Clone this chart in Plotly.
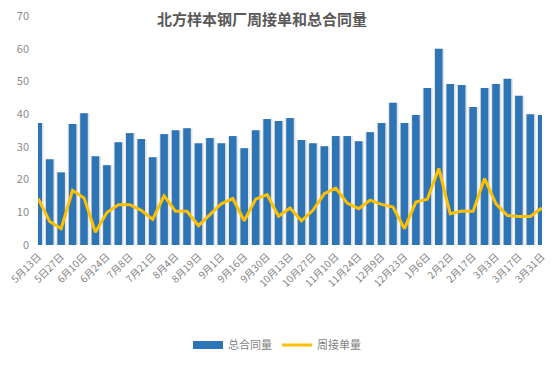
import plotly.graph_objects as go

dates = ["5月13日", "5月20日", "5日27日", "6月3日", "6月10日", "6月17日", "6月24日", "7月1日",
         "7月8日", "7月15日", "7月21日", "7月28日", "8月4日", "8月11日", "8月19日", "8月26日",
         "9月1日", "9月8日", "9月16日", "9月23日", "9月30日", "10月7日", "10月13日", "10月20日",
         "10月27日", "11月3日", "11月10日", "11月17日", "11月24日", "12月1日", "12月9日", "12月16日",
         "12月23日", "12月30日", "1月6日", "1月20日", "2月2日", "2月10日", "2月17日", "2月24日",
         "3月3日", "3月10日", "3月17日", "3月24日", "3月31日"]

total_contract = [37.3, 26.2, 22.2, 37.0, 40.3, 27.1, 24.4, 31.4, 34.2, 32.4, 26.8, 33.9,
                  35.1, 35.7, 31.1, 32.7, 31.1, 33.3, 29.6, 35.1, 38.5, 37.9, 38.8, 32.1,
                  31.1, 30.2, 33.3, 33.3, 31.7, 34.5, 37.3, 43.5, 37.3, 39.7, 48.0, 60.0,
                  49.2, 48.9, 42.2, 48.0, 49.2, 50.8, 45.6, 40.0, 39.7]

weekly_orders = [14.2, 7.2, 5.0, 16.7, 14.4, 3.9, 9.9, 12.3, 12.3, 10.6, 7.8, 15.0,
                 10.3, 10.3, 5.9, 9.3, 12.6, 14.2, 7.4, 14.0, 15.4, 8.8, 11.3, 7.4,
                 10.6, 15.7, 17.4, 12.8, 11.1, 13.7, 12.4, 11.6, 5.0, 13.1, 14.0, 23.4,
                 9.6, 10.4, 10.3, 20.3, 12.6, 9.0, 8.7, 8.7, 11.3]

font_family = "Noto Sans CJK SC"
BAR_COLOR = "#2E75B6"
LINE_COLOR = "#FFC000"

# page body has an 8px margin, so the figure is drawn at (8, 8)
W, H = 546, 358

fig = go.Figure()
# soft shadow behind the bars
fig.add_trace(go.Bar(
    x=dates, y=total_contract, showlegend=False, hoverinfo="skip",
    width=0.9, offset=-0.42,
    marker=dict(color="rgba(0,0,0,0.11)", line=dict(width=0)),
))
fig.add_trace(go.Bar(
    x=dates, y=total_contract, name="总合同量", showlegend=False,
    width=0.66, offset=-0.33,
    marker=dict(color=BAR_COLOR, line=dict(width=0)),
))
# legend swatch for the bars (wide rectangle, like the reference)
fig.add_trace(go.Scatter(
    x=[None], y=[None], name="总合同量", mode="lines",
    line=dict(color=BAR_COLOR, width=8),
))
fig.add_trace(go.Scatter(
    x=dates, y=weekly_orders, name="周接单量", mode="lines",
    line=dict(color=LINE_COLOR, width=3), cliponaxis=False,
))

fig.update_layout(
    width=W, height=H,
    margin=dict(l=30, r=12, t=8, b=121),
    paper_bgcolor="white", plot_bgcolor="white",
    font=dict(family=font_family, color="#8C8C8C", size=11),
    barmode="overlay",
    title=dict(text="<b>北方样本钢厂周接单和总合同量</b>", xref="container", x=254 / W,
               xanchor="center", yref="container", y=1 - 12 / H, yanchor="middle",
               font=dict(size=15, color="#595959", family=font_family), automargin=False),
    legend=dict(orientation="h", xref="container", x=269 / W, xanchor="center",
                yref="container", y=21 / H, yanchor="middle",
                font=dict(size=11, color="#7F7F7F"), traceorder="normal",
                itemwidth=30, tracegroupgap=0),
    showlegend=True,
)
fig.update_xaxes(
    type="category", range=[-0.02, 44.02], automargin=False,
    tickvals=dates[::2], ticktext=dates[::2],
    tickangle=-45, showgrid=False, showline=False, ticks="",
    tickfont=dict(size=10, color="#7F7F7F"), ticklabeloverflow="allow",
    ticklabelstandoff=3,
)
fig.update_yaxes(
    range=[0, 70], dtick=10, showgrid=False, showline=False, zeroline=False,
    automargin=False, tickfont=dict(size=11, color="#8C8C8C"), ticklabelstandoff=8,
    ticklabeloverflow="allow",
)

fig.write_html("out.html")
